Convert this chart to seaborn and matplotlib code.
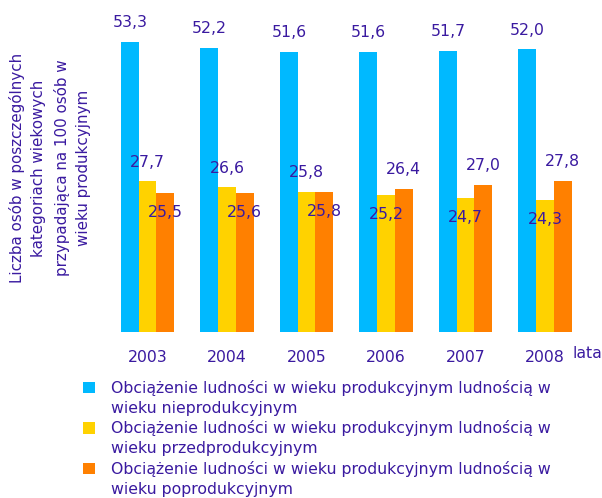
import numpy as np
import pandas as pd
import matplotlib
matplotlib.use("Agg")
import matplotlib.pyplot as plt
from matplotlib.patches import Patch
import seaborn as sns

years = ["2003", "2004", "2005", "2006", "2007", "2008"]
nieprod = [53.3, 52.2, 51.6, 51.6, 51.7, 52.0]
przedprod = [27.7, 26.6, 25.8, 25.2, 24.7, 24.3]
poprod = [25.5, 25.6, 25.8, 26.4, 27.0, 27.8]

series_names = [
    "Obciążenie ludności w wieku produkcyjnym ludnością w\nwieku nieprodukcyjnym",
    "Obciążenie ludności w wieku produkcyjnym ludnością w\nwieku przedprodukcyjnym",
    "Obciążenie ludności w wieku produkcyjnym ludnością w\nwieku poprodukcyjnym",
]
ylabel = ("Liczba osób w poszczególnych\nkategoriach wiekowych\n"
          "przypadająca na 100 osób w\nwieku produkcyjnym")

colors = ["#00B9FF", "#FFD200", "#FF8000"]
txt = "#3a1aa0"
fs = 11.3

df = pd.DataFrame({
    "rok": years * 3,
    "wartosc": nieprod + przedprod + poprod,
    "seria": [series_names[0]] * 6 + [series_names[1]] * 6 + [series_names[2]] * 6,
})

sns.set_style("white")
plt.rcParams["font.family"] = ["DejaVu Sans"]

fig = plt.figure(figsize=(6.02, 4.98), dpi=100)
ax = fig.add_axes([107.75 / 602, 1 - 332 / 498, 477 / 602, 326 / 498])

sns.barplot(data=df, x="rok", y="wartosc", hue="seria", palette=colors,
            width=0.667, saturation=1, legend=False, linewidth=0,
            edgecolor="none", ax=ax)
ax.set_ylim(0, 60)
ax.set_xlim(-0.5, 5.5)
for s in ax.spines.values():
    s.set_visible(False)
ax.set_yticks([])
ax.set_xlabel("")
ax.set_ylabel("")
ax.tick_params(axis="x", length=0, pad=13, labelsize=fs, labelcolor=txt)

# etykiety danych
groups = [nieprod, przedprod, poprod]
for k, cont in enumerate(ax.containers):
    for i, bar in enumerate(cont):
        v = groups[k][i]
        if k == 0:
            above = True
        elif k == 1:
            above = v >= poprod[i]
        else:
            above = v > przedprod[i]
        off = 14 if above else -14
        ax.annotate(f"{v:.1f}".replace(".", ","),
                    (bar.get_x() + bar.get_width() / 2, bar.get_height()),
                    xytext=(0, off), textcoords="offset points",
                    ha="center", va="center", fontsize=fs, color=txt)

fig.text(50 / 602, 1 - 168 / 498, ylabel, rotation=90, ha="center", va="center",
         multialignment="center", fontsize=10.9, color=txt, linespacing=1.55)
fig.text(587 / 602, 1 - 353 / 498, "lata", ha="center", va="center",
         fontsize=fs, color=txt)

handles = []
labels = []
for c, name in zip(colors, series_names):
    first, second = name.split("\n")
    handles.append(Patch(facecolor=c, edgecolor="none"))
    labels.append(first)
    handles.append(Patch(facecolor="none", edgecolor="none"))
    labels.append(second)
leg = fig.legend(handles, labels, loc="upper left",
                 bbox_to_anchor=(83 / 602, 1 - 380 / 498),
                 frameon=False, fontsize=fs, labelspacing=0.3,
                 handlelength=0.75, handleheight=0.75, handletextpad=1.05,
                 borderpad=0, borderaxespad=0)
for t in leg.get_texts():
    t.set_color(txt)

fig.savefig("out.png", dpi=100)
